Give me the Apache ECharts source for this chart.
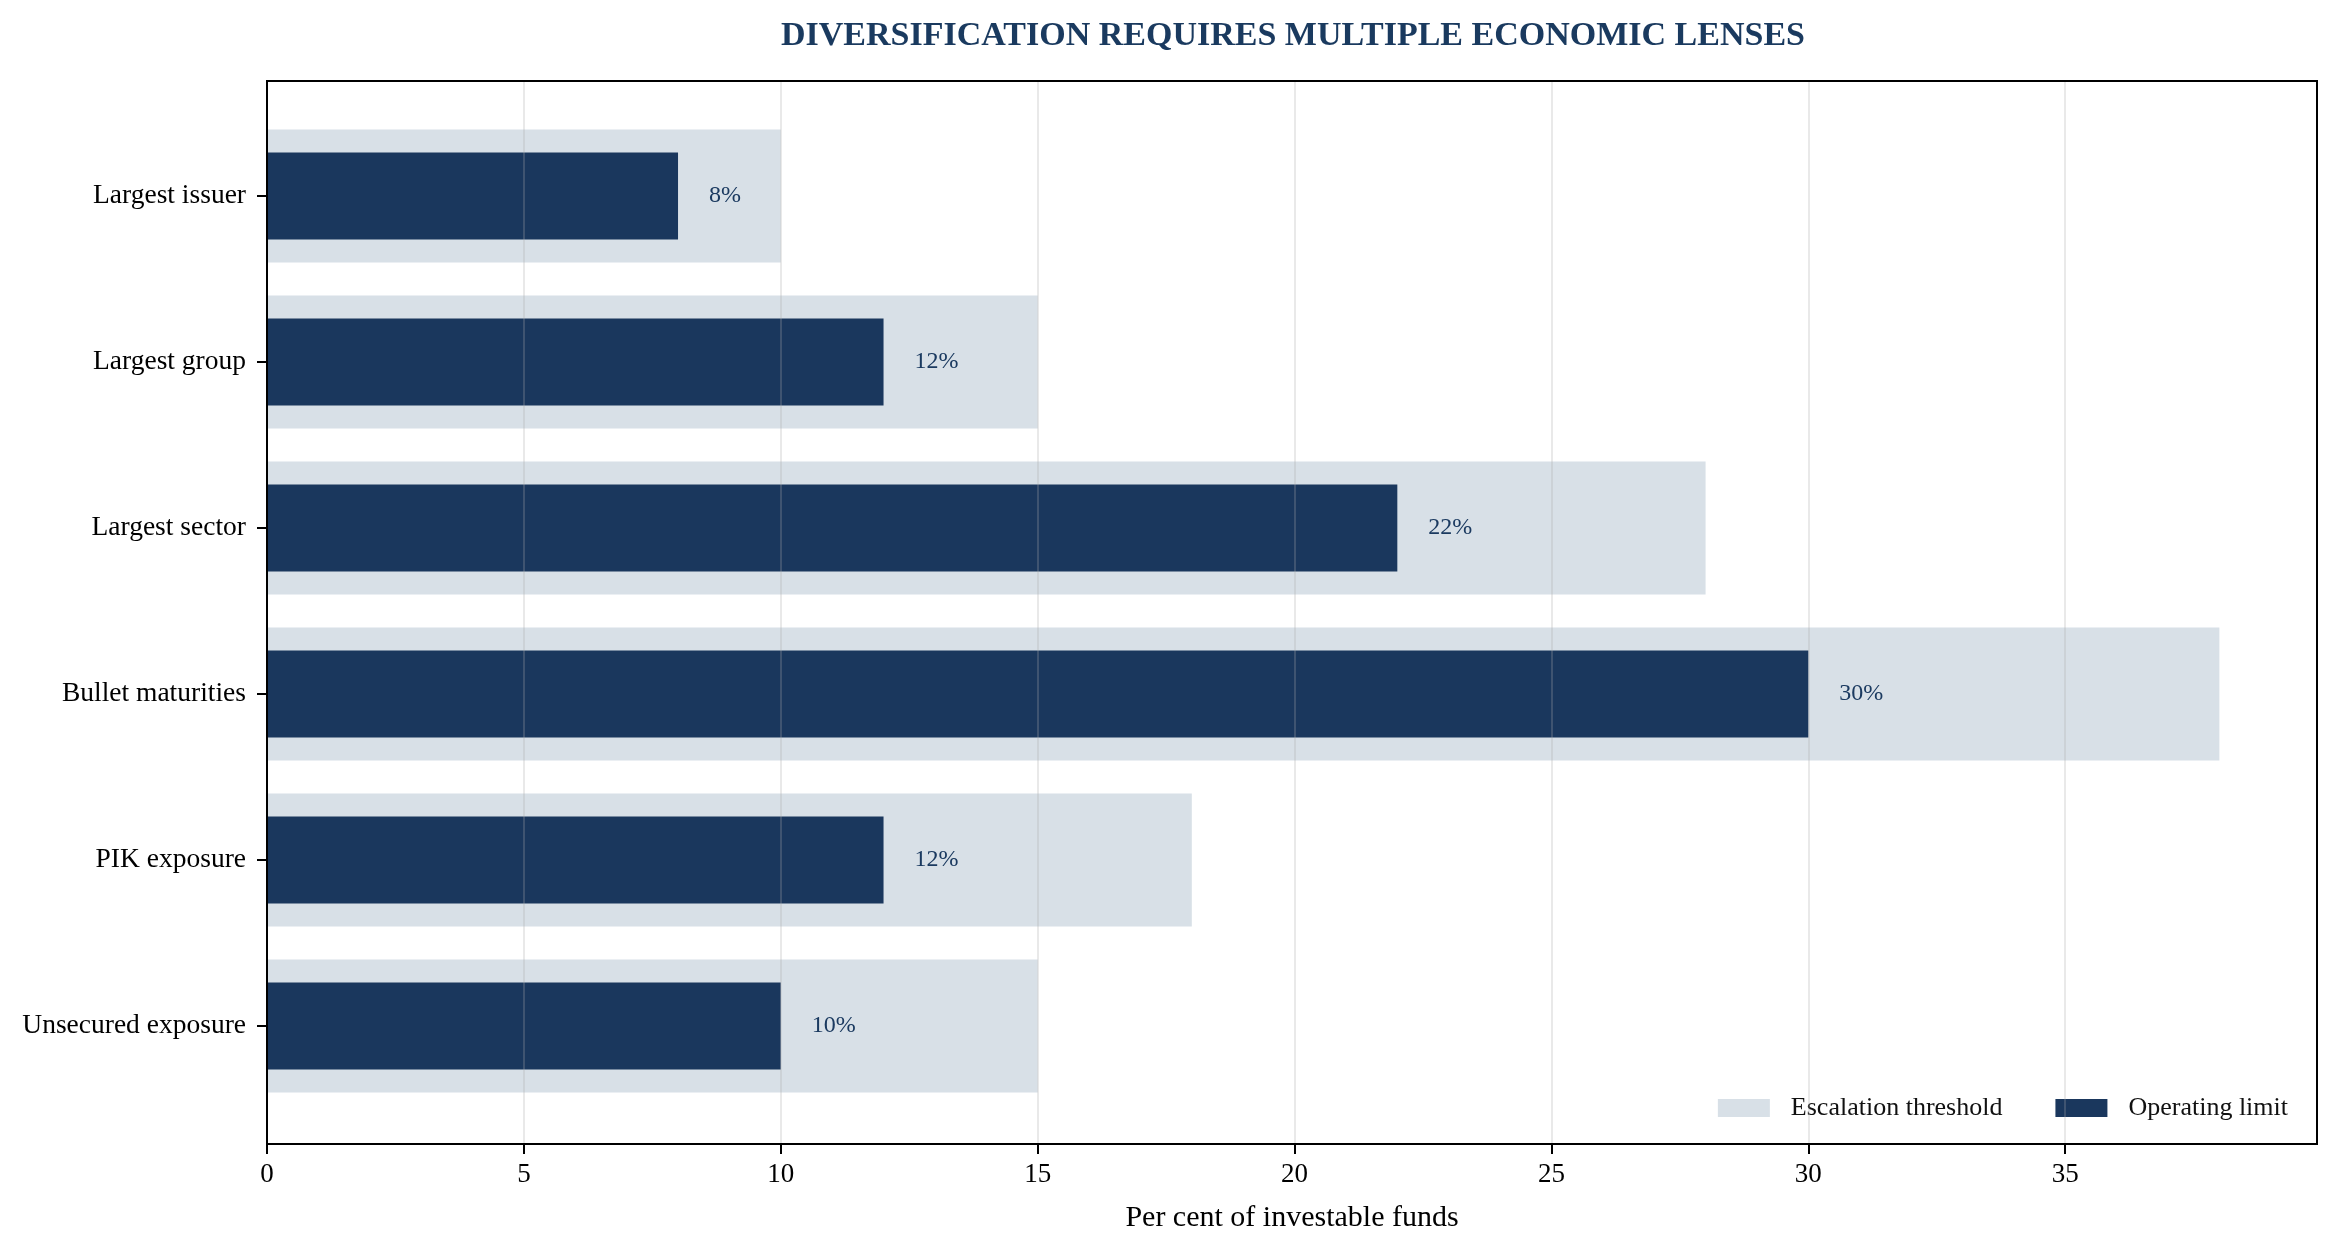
<!DOCTYPE html>
<html>
<head>
<meta charset="utf-8">
<title>Diversification lenses</title>
<script type="text/javascript" src="https://cdn.jsdelivr.net/npm/echarts@6/dist/echarts.min.js"></script>
<style>
  html, body { margin: 0; padding: 0; background: #fff; }
  #container { width: 2339px; height: 1253px; }
</style>
</head>
<body>
<div id="container"></div>
<script type="text/javascript">
var categories = ['Largest issuer', 'Largest group', 'Largest sector', 'Bullet maturities', 'PIK exposure', 'Unsecured exposure'];
var operatingLimit = [8, 12, 22, 30, 12, 10];
var escalationThreshold = [10, 15, 28, 38, 18, 15];
var xTicks = [0, 5, 10, 15, 20, 25, 30, 35];
var xMax = 39.9;

var FONT = '"Liberation Serif", "Times New Roman", serif';
var NAVY = '#1a375d';
var PALE = '#d8e0e7';

var chart = echarts.init(document.getElementById('container'));

var option = {
  backgroundColor: '#ffffff',
  animation: false,
  textStyle: { fontFamily: FONT },
  title: {
    text: 'DIVERSIFICATION REQUIRES MULTIPLE ECONOMIC LENSES',
    left: 776,
    top: 14,
    textStyle: { fontFamily: FONT, fontSize: 34, fontWeight: 'bold', color: '#1a3a5f' }
  },
  legend: {
    right: 46,
    top: 1090,
    itemWidth: 52,
    itemHeight: 18,
    itemGap: 53,
    icon: 'rect',
    data: ['Escalation threshold', 'Operating limit'],
    textStyle: { fontFamily: FONT, fontSize: 26, color: '#111', padding: [0, 0, 0, 16] }
  },
  grid: [
    // bars area: six bands of 166px
    { left: 267, right: 22, top: 113, height: 996, containLabel: false },
    // frame + x axis
    { left: 267, right: 22, top: 81, bottom: 109, show: true, borderColor: '#000', borderWidth: 2, z: 10, containLabel: false }
  ],
  xAxis: [
    {
      gridIndex: 1,
      type: 'value',
      min: 0,
      max: xMax,
      interval: 5,
      z: 9,
      name: 'Per cent of investable funds',
      nameLocation: 'middle',
      nameGap: 59,
      nameTextStyle: { fontFamily: FONT, fontSize: 30, color: '#000' },
      axisLine: { show: false },
      axisTick: { show: true, length: 10, lineStyle: { color: '#000', width: 2 }, customValues: xTicks },
      axisLabel: { fontFamily: FONT, fontSize: 27, color: '#000', margin: 17, customValues: xTicks },
      splitLine: { show: true, lineStyle: { color: 'rgba(170,170,170,0.26)', width: 2 } }
    },
    {
      gridIndex: 0,
      type: 'value',
      min: 0,
      max: xMax,
      show: false
    }
  ],
  yAxis: [
    {
      gridIndex: 0,
      type: 'category',
      data: categories,
      inverse: true,
      axisLine: { show: false },
      axisTick: { show: true, alignWithLabel: true, length: 10, lineStyle: { color: '#000', width: 2 } },
      axisLabel: { fontFamily: FONT, fontSize: 27.5, color: '#000', margin: 21 },
      splitLine: { show: false }
    },
    {
      gridIndex: 0,
      type: 'category',
      data: categories,
      inverse: true,
      show: false
    },
    {
      gridIndex: 1,
      type: 'value',
      show: false
    }
  ],
  series: [
    {
      name: 'Escalation threshold',
      type: 'bar',
      xAxisIndex: 1,
      yAxisIndex: 0,
      barWidth: 133,
      itemStyle: { color: PALE },
      data: escalationThreshold
    },
    {
      name: 'Operating limit',
      type: 'bar',
      xAxisIndex: 1,
      yAxisIndex: 1,
      barWidth: 87,
      itemStyle: { color: NAVY },
      label: {
        show: true,
        position: 'right',
        distance: 31,
        formatter: '{c}%',
        fontFamily: FONT,
        fontSize: 24,
        color: '#1b3a60'
      },
      data: operatingLimit
    }
  ]
};

chart.setOption(option);
</script>
</body>
</html>
